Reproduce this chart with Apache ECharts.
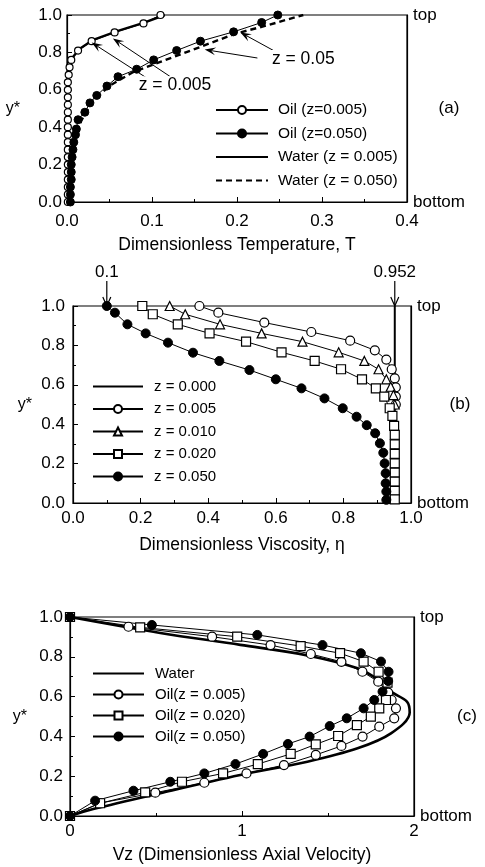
<!DOCTYPE html>
<html><head><meta charset="utf-8">
<script src="https://cdn.jsdelivr.net/npm/echarts@6/dist/echarts.min.js"></script>
<style>html,body{margin:0;padding:0;background:#fff}#c{width:485px;height:867px}</style>
</head><body><div id="c"></div>
<script>
// ---------- Panel (a): y* vs dimensionless temperature T ----------
const aOil005 = [[0.001,0],[0.001,0.04],[0.001,0.08],[0.001,0.12],[0.001,0.16],[0.001,0.2],[0.001,0.24],[0.001,0.28],[0.001,0.32],[0.001,0.36],[0.001,0.4],[0.001,0.44],[0.001,0.48],[0.001,0.52],[0.001,0.56],[0.001,0.6],[0.001,0.64],[0.002,0.68],[0.003,0.72],[0.005,0.76],[0.013,0.81],[0.029,0.86],[0.056,0.907],[0.09,0.955],[0.11,1.0]];
const aOil050 = [[0.004,0],[0.004,0.04],[0.004,0.08],[0.005,0.12],[0.005,0.16],[0.005,0.2],[0.006,0.24],[0.007,0.28],[0.008,0.32],[0.01,0.36],[0.011,0.39],[0.013,0.44],[0.021,0.48],[0.027,0.53],[0.035,0.57],[0.047,0.62],[0.06,0.67],[0.082,0.71],[0.102,0.76],[0.129,0.81],[0.157,0.86],[0.196,0.91],[0.229,0.96],[0.248,1.0]];
const aWater005 = [[0,0],[0,0.6],[0.002,0.7],[0.006,0.77],[0.015,0.82],[0.03,0.865],[0.06,0.915],[0.09,0.958],[0.115,1.0]];
const aWater050 = [[0.004,0],[0.006,0.2],[0.01,0.35],[0.017,0.437],[0.031,0.544],[0.051,0.624],[0.078,0.695],[0.109,0.748],[0.156,0.828],[0.198,0.9],[0.235,0.944],[0.278,1.0]];
const aNames = ['Oil (z=0.005)','Oil (z=0.050)','Water (z = 0.005)','Water (z = 0.050)'];

// ---------- Panel (b): y* vs dimensionless viscosity ----------
const bZ000 = [[0.952,0],[0.952,1.0]];
const bZ005 = [[0.374,1.0],[0.43,0.966],[0.566,0.916],[0.705,0.868],[0.82,0.824],[0.893,0.775],[0.927,0.728],[0.943,0.679],[0.952,0.633],[0.955,0.587],[0.955,0.54],[0.955,0.5]];
const bZ010 = [[0.286,1.0],[0.332,0.958],[0.435,0.907],[0.558,0.861],[0.679,0.819],[0.786,0.765],[0.862,0.721],[0.904,0.679],[0.927,0.628],[0.94,0.59],[0.948,0.548],[0.952,0.5]];
const bZ020 = [[0.205,1.0],[0.236,0.958],[0.31,0.907],[0.404,0.861],[0.512,0.819],[0.617,0.765],[0.715,0.721],[0.793,0.679],[0.855,0.628],[0.896,0.582],[0.921,0.54],[0.937,0.481],[0.945,0.442],[0.95,0.391],[0.952,0.346],[0.952,0.298],[0.952,0.249],[0.952,0.201],[0.952,0.154],[0.952,0.108],[0.952,0.062],[0.952,0.018]];
const bZ050 = [[0.1,1.0],[0.124,0.966],[0.161,0.907],[0.215,0.861],[0.281,0.814],[0.355,0.763],[0.433,0.721],[0.522,0.675],[0.6,0.628],[0.676,0.582],[0.744,0.531],[0.798,0.481],[0.839,0.438],[0.869,0.395],[0.894,0.354],[0.908,0.303],[0.918,0.255],[0.922,0.201],[0.925,0.151],[0.925,0.1],[0.927,0.058],[0.927,0.016]];
const bNames = ['z = 0.000','z = 0.005','z = 0.010','z = 0.020','z = 0.050'];

// ---------- Panel (c): y* vs axial velocity Vz ----------
const cWater = [[0,1.0],[0.525,0.92],[0.99,0.86],[1.38,0.807],[1.672,0.742],[1.808,0.675],[1.866,0.625],[1.96,0.574],[1.975,0.52],[1.866,0.415],[1.672,0.34],[1.38,0.273],[0.99,0.206],[0.525,0.115],[0.135,0.035],[0,0]];
const cOil005 = [[0,1.0],[0.34,0.951],[0.826,0.901],[1.166,0.859],[1.4,0.814],[1.578,0.775],[1.7,0.725],[1.792,0.675],[1.85,0.62],[1.87,0.583],[1.895,0.541],[1.885,0.491],[1.798,0.449],[1.701,0.399],[1.578,0.352],[1.429,0.307],[1.244,0.256],[1.026,0.214],[0.781,0.167],[0.496,0.117],[0.175,0.065],[0,0]];
const cOil020 = [[0,1.0],[0.408,0.948],[0.972,0.901],[1.341,0.854],[1.57,0.818],[1.707,0.776],[1.794,0.725],[1.846,0.67],[1.837,0.583],[1.798,0.541],[1.749,0.499],[1.668,0.457],[1.559,0.402],[1.429,0.36],[1.283,0.312],[1.092,0.261],[0.89,0.214],[0.651,0.172],[0.437,0.119],[0.175,0.064],[0,0]];
const cOil050 = [[0,1.0],[0.476,0.96],[1.089,0.91],[1.468,0.859],[1.691,0.818],[1.808,0.776],[1.852,0.725],[1.85,0.678],[1.817,0.625],[1.769,0.583],[1.707,0.541],[1.609,0.491],[1.51,0.452],[1.393,0.399],[1.267,0.362],[1.123,0.312],[0.962,0.261],[0.781,0.214],[0.583,0.172],[0.369,0.127],[0.146,0.077],[0,0]];
const cNames = ['Water','Oil(z = 0.005)','Oil(z = 0.020)','Oil(z = 0.050)'];

// ---------- Annotations (data coordinates) ----------
const aLabel05 = {text:'z = 0.05', at:[0.278,0.765]};
const aLabel005 = {text:'z = 0.005', at:[0.127,0.624]};
const aArrows05 = [[[0.247,0.8],[0.204,0.907]],[[0.224,0.77],[0.162,0.815]]];
const aArrows005 = [[[0.098,0.651],[0.029,0.853]],[[0.121,0.672],[0.054,0.875]]];
const bMarks = [{text:'0.1', x:0.1},{text:'0.952', x:0.952}];

const FF = '"Liberation Sans", Arial, Helvetica, sans-serif';
const chart = echarts.init(document.getElementById('c'), null, {renderer:'canvas'});

const grids = [
  {left:67, top:15, width:340, height:187},
  {left:73, top:306, width:338, height:197},
  {left:70, top:617, width:344, height:199}
];
const xCfg = [
  {min:0, max:0.4, interval:0.1, name:'Dimensionless Temperature, T', gap:34, dec:1, minor:2, margin:11},
  {min:0, max:1, interval:0.2, name:'Dimensionless Viscosity, \u03b7', gap:33, dec:1, minor:2, margin:7},
  {min:0, max:2, interval:1, name:'Vz (Dimensionless Axial Velocity)', gap:30, dec:0, minor:2, margin:7}
];
const yGap = [47, 41, 43];
const yMargin = [5, 8, 7];

const xAxis = xCfg.map((c,i)=>({
  type:'value', gridIndex:i, min:c.min, max:c.max, interval:c.interval,
  name:c.name, nameLocation:'middle', nameGap:c.gap,
  nameTextStyle:{fontFamily:FF, fontSize:17.5, color:'#000'},
  axisLine:{show:true, onZero:false, lineStyle:{color:'#000', width:1.2}},
  axisTick:{show:true, inside:true, length:5, lineStyle:{color:'#000'}},
  minorTick:{show:true, splitNumber:c.minor, length:3, lineStyle:{color:'#000'}},
  splitLine:{show:false},
  axisLabel:{fontFamily:FF, fontSize:17, color:'#000', margin:c.margin, formatter:v=>v.toFixed(c.dec)}
}));
const yAxis = [];
for (let i=0;i<3;i++) yAxis.push({
  type:'value', gridIndex:i, min:0, max:1, interval:0.2,
  name:'y*', nameLocation:'middle', nameRotate:0, nameGap:yGap[i],
  nameTextStyle:{fontFamily:FF, fontSize:16, color:'#000'},
  axisLine:{show:true, onZero:false, lineStyle:{color:'#000', width:1.2}},
  axisTick:{show:true, inside:true, length:5, lineStyle:{color:'#000'}},
  minorTick:{show:true, splitNumber:2, length:3, lineStyle:{color:'#000'}},
  splitLine:{show:false},
  axisLabel:{fontFamily:FF, fontSize:17, color:'#000', margin:yMargin[i], formatter:v=>v.toFixed(1)}
});
for (let i=0;i<3;i++) yAxis.push({
  type:'value', gridIndex:i, min:0, max:1, interval:1, position:'right',
  axisLine:{show:true, onZero:false, lineStyle:{color:'#000', width:1.2}},
  axisTick:{show:false}, splitLine:{show:false},
  axisLabel:{fontFamily:FF, fontSize:17, color:'#000', margin:6, formatter:v=>v===1?'top':'bottom'}
});

const open = {color:'#fff', borderColor:'#000', borderWidth:1.2};
const filled = {color:'#000', borderColor:'#000', borderWidth:1};
function S(name, data, g, sym, size, item, lw, extra){
  return Object.assign({
    type:'line', name, data, xAxisIndex:g, yAxisIndex:g,
    symbol:sym, symbolSize:size, showSymbol: sym!=='none',
    itemStyle:item || {color:'#000'},
    lineStyle:{color:'#000', width:lw},
    animation:false, silent:true, z:3
  }, extra||{});
}
const series = [
  S(aNames[2], aWater005, 0, 'none', 0, {color:'#000'}, 2.4),
  S(aNames[3], aWater050, 0, 'none', 0, {color:'#000'}, 2.4, {lineStyle:{color:'#000', width:2.4, type:[6,4]}}),
  S(aNames[0], aOil005, 0, 'circle', 7, open, 1),
  S(aNames[1], aOil050, 0, 'circle', 8, filled, 1),
  S(bNames[0], bZ000, 1, 'none', 0, {color:'#000'}, 2),
  S(bNames[1], bZ005, 1, 'circle', 9, open, 1),
  S(bNames[2], bZ010, 1, 'triangle', 9, open, 1),
  S(bNames[3], bZ020, 1, 'rect', 9, open, 1),
  S(bNames[4], bZ050, 1, 'circle', 9, filled, 1),
  S(cNames[0], cWater, 2, 'none', 0, {color:'#000'}, 2.6, {smooth:0.35}),
  S(cNames[1], cOil005, 2, 'circle', 9, open, 1),
  S(cNames[2], cOil020, 2, 'rect', 9, open, 1),
  S(cNames[3], cOil050, 2, 'circle', 9, filled, 1)
];
const lineOnly = new Set([aNames[2], aNames[3], bNames[0], cNames[0]]);
const legItems = names => names.map(n => lineOnly.has(n) ? {name:n, itemStyle:{opacity:0}} : {name:n});
const legTxt = (p, fs) => ({fontFamily:FF, fontSize:fs, color:'#000', padding:[0,0,0,p]});
const legend = [
  {data:legItems(aNames), orient:'vertical', left:210, top:97, itemWidth:52, itemHeight:10, itemGap:7.5, textStyle:legTxt(5, 15.5), selectedMode:false},
  {data:legItems(bNames), orient:'vertical', left:87, top:374, itemWidth:50, itemHeight:10, itemGap:7.5, textStyle:legTxt(6, 15), selectedMode:false},
  {data:legItems(cNames), orient:'vertical', left:87, top:661, itemWidth:51, itemHeight:10, itemGap:6, textStyle:legTxt(6, 15), selectedMode:false}
];

chart.setOption({
  backgroundColor:'#fff', animation:false,
  grid: grids.map(g=>Object.assign({show:true, borderColor:'#000', borderWidth:1.2, backgroundColor:'transparent', containLabel:false}, g)),
  xAxis, yAxis, series, legend
});

// ---------- annotations placed through the axis scales ----------
function P(g, pt){ return chart.convertToPixel({xAxisIndex:g, yAxisIndex:g}, pt); }
function arrowEls(s, e, headLen, headW, lw){
  const dx=e[0]-s[0], dy=e[1]-s[1], L=Math.hypot(dx,dy), ux=dx/L, uy=dy/L, nx=-uy, ny=ux;
  return [
    {type:'line', shape:{x1:s[0],y1:s[1],x2:e[0]-ux*headLen*0.6,y2:e[1]-uy*headLen*0.6}, style:{stroke:'#000', lineWidth:lw}, z:10},
    {type:'polygon', shape:{points:[[e[0],e[1]],[e[0]-ux*headLen+nx*headW, e[1]-uy*headLen+ny*headW],[e[0]-ux*headLen*0.6, e[1]-uy*headLen*0.6],[e[0]-ux*headLen-nx*headW, e[1]-uy*headLen-ny*headW]]}, style:{fill:'#000'}, z:10}
  ];
}
const gfx = [];
[aLabel05, aLabel005].forEach(l=>{
  const p=P(0,l.at);
  gfx.push({type:'text', x:p[0], y:p[1], style:{text:l.text, fontFamily:FF, fontSize:17.5, fill:'#000', align:'center', verticalAlign:'middle', backgroundColor:'#fff'}, z:12});
});
aArrows05.concat(aArrows005).forEach(a=>{ gfx.push(...arrowEls(P(0,a[0]), P(0,a[1]), 11, 4, 1)); });
bMarks.forEach(m=>{
  const p=P(1,[m.x,1.0]);
  gfx.push({type:'text', x:p[0], y:p[1]-34, style:{text:m.text, fontFamily:FF, fontSize:17, fill:'#000', align:'center', verticalAlign:'middle'}, z:12});
  gfx.push({type:'line', shape:{x1:p[0],y1:p[1]-25,x2:p[0],y2:p[1]}, style:{stroke:'#000', lineWidth:1.2}, z:12});
  gfx.push({type:'polyline', shape:{points:[[p[0]-4,p[1]-9],[p[0],p[1]],[p[0]+4,p[1]-9]]}, style:{stroke:'#000', lineWidth:1.2, fill:null}, z:12});
});
const tags = [['(a)',0,42],['(b)',1,49],['(c)',2,53]];
tags.forEach(t=>{
  const g=grids[t[1]];
  gfx.push({type:'text', x:g.left+g.width+t[2], y:g.top+g.height/2, style:{text:t[0], fontFamily:FF, fontSize:17, fill:'#000', align:'center', verticalAlign:'middle'}, z:12});
});
chart.setOption({graphic: gfx});
</script></body></html>
